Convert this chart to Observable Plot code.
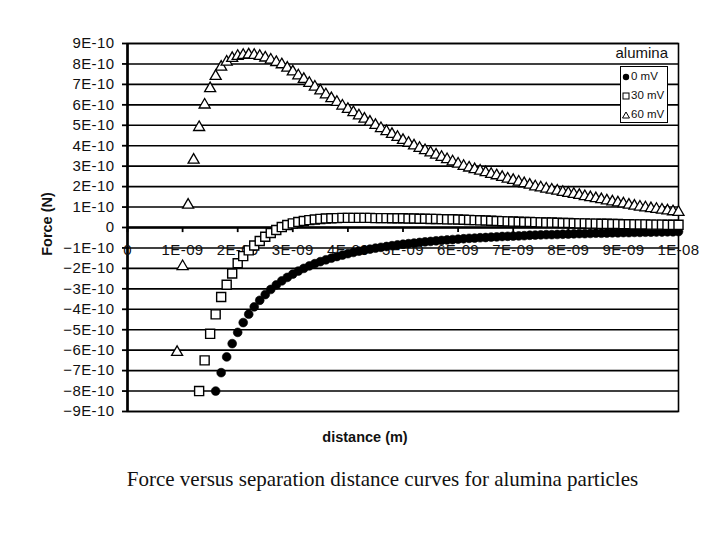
<!DOCTYPE html>
<html>
<head>
<meta charset="utf-8">
<script src="https://cdn.jsdelivr.net/npm/d3@7"></script>
<script src="https://cdn.jsdelivr.net/npm/@observablehq/plot@0.6"></script>
<style>
  body { margin: 0; background: #fff; }
  #wrap { position: relative; width: 720px; height: 540px; background: #fff; overflow: hidden; }
  #chart svg { display: block; }
  #chart svg g[aria-label="y-axis tick label"] text, #chart svg g[aria-label="text"] text { letter-spacing: 0.4px; }
  .legend { position: absolute; left: 620px; top: 66px; width: 46px; height: 55px; border: 1px solid #000; background: #fff;
            font-family: "Liberation Sans", Arial, sans-serif; font-size: 11.5px; color: #111; }
  .legend div { height: 19px; line-height: 19px; white-space: nowrap; padding-left: 1px; }
  .legend svg { vertical-align: -1px; margin-right: 1px; }
  .series-title { position: absolute; right: 52px; top: 44px; font-family: "Liberation Sans", Arial, sans-serif; font-size: 15px; color: #111; }
  .ytitle { position: absolute; left: 47px; top: 224px; transform: translate(-50%, -50%) rotate(-90deg);
            font-family: "Liberation Sans", Arial, sans-serif; font-weight: bold; font-size: 14.5px; color: #111; white-space: nowrap; }
  .xtitle { position: absolute; left: 365px; top: 437px; transform: translate(-50%, -50%);
            font-family: "Liberation Sans", Arial, sans-serif; font-weight: bold; font-size: 14.5px; color: #111; white-space: nowrap; }
  .caption { position: absolute; left: 0; width: 765px; top: 467px; text-align: center;
             font-family: "Liberation Serif", "Times New Roman", serif; font-size: 21px; color: #111; }
</style>
</head>
<body>
<div id="wrap">
  <div id="chart"></div>
  <div class="series-title">alumina</div>
  <div class="legend">
    <div><svg width="8" height="8"><circle cx="4" cy="4" r="3.2" fill="#000"/></svg>0 mV</div>
    <div><svg width="8" height="8"><rect x="1" y="1" width="6" height="6" fill="#fff" stroke="#000" stroke-width="1"/></svg>30 mV</div>
    <div><svg width="8" height="8"><path d="M4,1 L7.5,7 L0.5,7 Z" fill="#fff" stroke="#000" stroke-width="1"/></svg>60 mV</div>
  </div>
  <div class="ytitle">Force (N)</div>
  <div class="xtitle">distance (m)</div>
  <div class="caption">Force versus separation distance curves for alumina particles</div>
</div>
<script>
// separation distance, nm
const distanceNm = [
  0.9,1.0,1.1,1.2,1.3,1.4,1.5,1.6,1.7,1.8,1.9,
  2.0,2.1,2.2,2.3,2.4,2.5,2.6,2.7,2.8,2.9,
  3.0,3.1,3.2,3.3,3.4,3.5,3.6,3.7,3.8,3.9,
  4.0,4.1,4.2,4.3,4.4,4.5,4.6,4.7,4.8,4.9,
  5.0,5.1,5.2,5.3,5.4,5.5,5.6,5.7,5.8,5.9,
  6.0,6.1,6.2,6.3,6.4,6.5,6.6,6.7,6.8,6.9,
  7.0,7.1,7.2,7.3,7.4,7.5,7.6,7.7,7.8,7.9,
  8.0,8.1,8.2,8.3,8.4,8.5,8.6,8.7,8.8,8.9,
  9.0,9.1,9.2,9.3,9.4,9.5,9.6,9.7,9.8,9.9,
  10.0
];
// force, units of 1E-10 N (null = no point)
const force0mV = [
  null,null,null,null,null,null,null,-8.0,-7.1,-6.33,-5.68,
  -5.13,-4.65,-4.24,-3.88,-3.56,-3.28,-3.03,-2.81,-2.61,-2.44,
  -2.28,-2.13,-2.0,-1.88,-1.77,-1.67,-1.58,-1.5,-1.42,-1.35,
  -1.28,-1.22,-1.16,-1.11,-1.06,-1.01,-0.97,-0.93,-0.89,-0.85,
  -0.82,-0.79,-0.76,-0.73,-0.7,-0.68,-0.65,-0.63,-0.61,-0.59,
  -0.57,-0.55,-0.53,-0.52,-0.5,-0.49,-0.47,-0.46,-0.44,-0.43,
  -0.42,-0.41,-0.4,-0.38,-0.37,-0.36,-0.35,-0.35,-0.34,-0.33,
  -0.32,-0.31,-0.3,-0.3,-0.29,-0.28,-0.28,-0.27,-0.26,-0.26,
  -0.25,-0.25,-0.24,-0.24,-0.23,-0.23,-0.22,-0.22,-0.21,-0.21,
  -0.2
];
const force30mV = [
  null,null,null,null,-8.0,-6.5,-5.2,-4.25,-3.4,-2.8,-2.25,
  -1.75,-1.4,-1.12,-0.88,-0.66,-0.45,-0.27,-0.12,0.02,0.12,
  0.2,0.27,0.32,0.36,0.39,0.42,0.44,0.45,0.46,0.47,
  0.47,0.47,0.47,0.47,0.47,0.46,0.46,0.46,0.45,0.45,
  0.45,0.44,0.44,0.43,0.43,0.42,0.42,0.41,0.4,0.4,
  0.39,0.38,0.37,0.36,0.35,0.34,0.33,0.32,0.31,0.3,
  0.29,0.28,0.27,0.27,0.26,0.25,0.24,0.24,0.23,0.22,
  0.22,0.21,0.2,0.2,0.19,0.19,0.18,0.18,0.17,0.17,
  0.16,0.16,0.15,0.15,0.15,0.14,0.14,0.14,0.13,0.13,
  0.13
];
const force60mV = [
  -6.1,-1.9,1.1,3.3,4.9,6.0,6.8,7.4,7.85,8.1,8.28,
  8.38,8.43,8.45,8.43,8.38,8.3,8.2,8.08,7.97,7.8,
  7.62,7.43,7.25,7.06,6.88,6.69,6.5,6.31,6.13,5.95,
  5.79,5.63,5.47,5.31,5.16,5.0,4.85,4.7,4.56,4.42,
  4.27,4.13,4.0,3.88,3.77,3.66,3.55,3.44,3.33,3.22,
  3.11,3.0,2.92,2.84,2.77,2.69,2.61,2.54,2.46,2.38,
  2.31,2.23,2.15,2.08,2.0,1.95,1.89,1.84,1.79,1.73,
  1.68,1.63,1.58,1.52,1.47,1.42,1.37,1.31,1.26,1.21,
  1.16,1.1,1.05,1.01,0.97,0.93,0.9,0.86,0.82,0.78,
  0.75
];
const xTickNm = [0,1,2,3,4,5,6,7,8,9,10];
const xTickLabels = ["0","1E-09","2E-09","3E-09","4E-09","5E-09","6E-09","7E-09","8E-09","9E-09","1E-08"];
const yTickUnits = [9,8,7,6,5,4,3,2,1,0,-1,-2,-3,-4,-5,-6,-7,-8,-9];
const yTickLabels = ["9E-10","8E-10","7E-10","6E-10","5E-10","4E-10","3E-10","2E-10","1E-10","0",
  "\u22121E-10","\u22122E-10","\u22123E-10","\u22124E-10","\u22125E-10","\u22126E-10","\u22127E-10","\u22128E-10","\u22129E-10"];

const toRows = (arr) => distanceNm.map((d, i) => ({x: d * 1e-9, y: arr[i] == null ? null : arr[i] * 1e-10}))
  .filter(r => r.y != null);
const rows0 = toRows(force0mV);
const rows30 = toRows(force30mV);
const rows60 = toRows(force60mV);
const xTicks = xTickNm.map((d, i) => ({x: d * 1e-9, label: xTickLabels[i]}));
const yTicks = yTickUnits.map(d => d * 1e-10);
const yLabel = new Map(yTicks.map((d, i) => [d, yTickLabels[i]]));

const chart = Plot.plot({
  width: 720,
  height: 420,
  marginLeft: 127,
  marginRight: 42,
  marginTop: 43,
  marginBottom: 9,
  style: {fontFamily: "'Liberation Sans', Arial, sans-serif", fontSize: "15px", color: "#111", background: "#fff"},
  x: {domain: [0, 1e-8], axis: null},
  y: {domain: [-9e-10, 9e-10], axis: null},
  marks: [
    Plot.gridY(yTicks, {stroke: "#000", strokeOpacity: 1, strokeWidth: 1.6}),
    Plot.frame({stroke: "#000", strokeWidth: 1.6}),
    Plot.ruleY([0], {stroke: "#000", strokeWidth: 2.4}),
    Plot.ruleX([0], {stroke: "#000", strokeWidth: 2.6}),
    Plot.axisY(yTicks, {tickFormat: d => yLabel.get(d), tickSize: 5, tickPadding: 8, label: null, stroke: "#000", strokeWidth: 1.8, fontSize: 15, fill: "#111"}),
    Plot.ruleX(xTicks, {x: "x", y1: () => 0, y2: () => -0.25e-10, stroke: "#000", strokeWidth: 1.8}),
    Plot.text(xTicks, {x: "x", y: () => 0, text: "label", dy: 23, fontSize: 15, fill: "#111"}),
    Plot.dot(rows0, {x: "x", y: "y", symbol: "circle", r: 4.4, fill: "#000", stroke: "#000", strokeWidth: 0.6}),
    Plot.dot(rows30, {x: "x", y: "y", symbol: "square", r: 5.1, fill: "#fff", stroke: "#000", strokeWidth: 1.4}),
    Plot.dot(rows60, {x: "x", y: "y", symbol: "triangle", r: 4.1, fill: "#fff", stroke: "#000", strokeWidth: 1.3})
  ]
});
document.getElementById("chart").appendChild(chart);
</script>
</body>
</html>
